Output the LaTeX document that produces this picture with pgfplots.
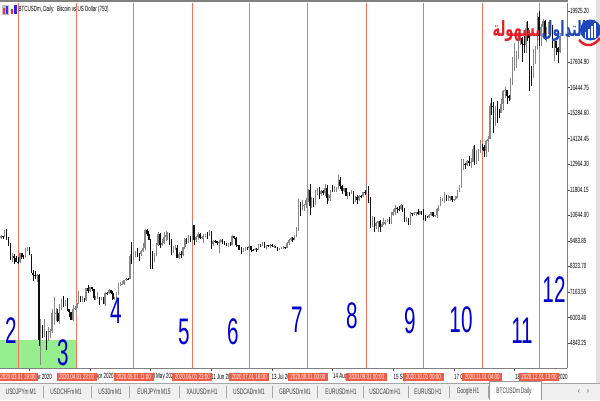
\documentclass[border=0pt]{standalone}
\usepackage{pgfplots}
\pgfplotsset{compat=1.18}
\usepackage{pgfplotstable}
\usepackage{graphicx}
\usepackage{fontspec}
\setmainfont{Liberation Sans}
\newfontfamily\arabicfont[Script=Arabic]{DejaVu Sans}
\TeXXeTstate=1
\newcommand{\sqz}[1]{\scalebox{0.6}[1]{#1}}
\definecolor{mtred}{RGB}{245,115,95}
\definecolor{boxred}{RGB}{242,92,68}
\definecolor{numblue}{RGB}{0,0,205}
\definecolor{bullc}{RGB}{135,135,135}
\definecolor{bearc}{RGB}{15,15,15}
\definecolor{tabbg}{RGB}{240,240,240}
\definecolor{mtgreen}{RGB}{150,238,140}
\definecolor{logoblue}{RGB}{30,70,190}
\definecolor{logored}{RGB}{230,30,40}

\pgfplotstableread{
x o h l c
-9 9600 9760 9580 9690
-8 9690 9700 9580 9660
-7 9660 9990 9650 9960
-6 9960 10020 9510 9660
-5 9660 9680 9270 9310
-4 9310 9370 8620 8780
-3 8780 8950 8530 8810
-2 8810 8890 8440 8700
-1 8700 8790 8530 8540
0 8540 8740 8420 8520
1 8520 8950 8500 8910
2 8910 8930 8660 8760
3 8760 8840 8680 8750
4 8750 9140 8740 9070
5 9070 9190 9020 9160
6 9160 9200 8860 8890
7 8890 8900 8020 8030
8 8030 8180 7640 7930
9 7930 8100 7740 7890
10 7890 7980 7600 7950
11 7950 7970 4700 4970
12 4970 5940 3850 5560
13 5560 5640 5090 5200
14 5200 5950 5100 5390
15 5390 5390 4510 5010
16 5010 5560 4950 5360
17 5360 5460 5070 5410
18 5410 6390 5280 6190
19 6190 6920 5670 6190
20 6190 6440 5860 6200
21 6200 6400 5790 5830
22 5830 6600 5720 6480
23 6480 6850 6360 6770
24 6770 6960 6460 6690
25 6690 6790 6540 6760
26 6760 6870 6290 6370
27 6370 6390 6030 6250
28 6250 6260 5880 5880
29 5880 6590 5860 6400
30 6400 6520 6360 6440
31 6440 6680 6170 6640
32 6640 7190 6600 6800
33 6800 7000 6690 6740
34 6740 6980 6690 6870
35 6870 6880 6690 6780
36 6780 7360 6770 7340
37 7340 7470 7120 7200
38 7200 7400 7150 7370
39 7370 7380 7210 7300
40 7300 7310 6780 6870
41 6870 6960 6790 6890
42 6890 7170 6850 6910
43 6910 6920 6560 6860
44 6860 6930 6790 6870
45 6870 6940 6620 6620
46 6620 7170 6530 7120
47 7120 7150 7010 7100
48 7100 7290 7080 7260
49 7260 7270 7070 7130
50 7130 7210 6800 6850
51 6850 6930 6800 6860
52 6860 7150 6840 7130
53 7130 7560 7010 7490
54 7490 7620 7430 7510
55 7510 7640 7480 7540
56 7540 7710 7490 7700
57 7700 7790 7650 7770
58 7770 7800 7690 7760
59 7760 8900 7740 8780
60 8780 9450 8430 8620
61 8620 9040 8610 8830
62 8830 9000 8770 8970
63 8970 9170 8730 8900
64 8900 8950 8560 8880
65 8880 9080 8800 9030
66 9030 9380 8960 9150
67 9150 10000 9050 9990
68 9990 10040 9720 9810
69 9810 9920 9520 9540
70 9540 9570 8200 8720
71 8720 9000 8200 8560
72 8560 8950 8540 8810
73 8810 9390 8800 9310
74 9310 9880 9250 9790
75 9790 9840 9150 9310
76 9310 9590 9230 9380
77 9380 9880 9330 9670
78 9670 9950 9470 9730
79 9730 9880 9510 9780
80 9780 9830 9300 9510
81 9510 9560 8820 9060
82 9060 9270 8950 9170
83 9170 9310 9080 9180
84 9180 9310 8710 8720
85 8720 8980 8640 8900
86 8900 9010 8700 8840
87 8840 9220 8810 9200
88 9200 9620 9110 9580
89 9580 9610 9340 9430
90 9430 9730 9390 9700
91 9700 9710 9420 9450
92 9450 10430 9420 10200
93 10200 10220 9280 9520
94 9520 9690 9450 9660
95 9660 9880 9530 9800
96 9800 9850 9590 9620
97 9620 9720 9580 9670
98 9670 9790 9380 9750
99 9750 9800 9640 9780
100 9780 9880 9570 9770
101 9770 9990 9690 9880
102 9880 9940 9100 9320
103 9320 9530 9260 9480
104 9480 9500 9380 9470
105 9470 9490 9290 9390
106 9390 9530 8950 9430
107 9430 9580 9380 9530
108 9530 9560 9360 9450
109 9450 9480 9290 9390
110 9390 9400 9230 9290
111 9290 9380 9210 9330
112 9330 9420 9270 9290
113 9290 9740 9280 9690
114 9690 9690 9580 9630
115 9630 9670 9220 9290
116 9290 9310 9090 9250
117 9250 9310 9060 9160
118 9160 9190 8870 9010
119 9010 9140 8970 9120
120 9120 9210 9020 9190
121 9190 9200 9080 9140
122 9140 9290 9090 9230
123 9230 9260 8960 9090
124 9090 9130 9040 9060
125 9060 9170 9050 9130
126 9130 9140 8960 9070
127 9070 9360 9060 9340
128 9340 9360 9220 9250
129 9250 9450 9230 9430
130 9430 9440 9180 9230
131 9230 9310 9120 9290
132 9290 9300 9200 9240
133 9240 9340 9160 9300
134 9300 9340 9200 9240
135 9240 9280 9140 9250
136 9250 9270 9150 9190
137 9190 9210 9000 9130
138 9130 9180 9090 9150
139 9150 9200 9130 9170
140 9170 9230 9110 9210
141 9210 9220 9130 9160
142 9160 9420 9150 9390
143 9390 9550 9280 9540
144 9540 9640 9480 9610
145 9610 9650 9440 9540
146 9540 9730 9530 9700
147 9700 10110 9650 9930
148 9930 11400 9910 11030
149 11030 11230 10600 10940
150 10940 11340 10870 11100
151 11100 11170 10840 11110
152 11110 11450 10970 11320
153 11320 11860 11230 11800
154 11800 12080 10660 11070
155 11070 11480 10960 11220
156 11220 11420 11010 11190
157 11190 11790 11100 11740
158 11740 11900 11550 11770
159 11770 11910 11380 11600
160 11600 11800 11530 11750
161 11750 11800 11570 11680
162 11680 12070 11520 11880
163 11880 12030 11150 11410
164 11410 11620 11280 11580
165 11580 11800 11300 11780
166 11780 12000 11690 11770
167 11770 11980 11690 11870
168 11870 11940 11690 11910
169 11910 12470 11820 12250
170 12250 12380 11850 11990
171 11990 12000 11590 11750
172 11750 11880 11690 11870
173 11870 11880 11510 11520
174 11520 11690 11390 11680
175 11680 11690 11530 11650
176 11650 11810 11600 11760
177 11760 11770 11140 11340
178 11340 11530 11270 11470
179 11470 11570 11160 11320
180 11320 11550 11300 11540
181 11540 11570 11440 11510
182 11510 11720 11480 11710
183 11710 11780 11560 11680
184 11680 12090 11640 11970
185 11970 11980 11200 11410
186 11410 11470 10050 10250
187 10250 10620 10120 10510
188 10510 10560 9900 10170
189 10170 10350 10000 10280
190 10280 10400 9900 10370
191 10370 10430 9890 10130
192 10130 10350 10100 10240
193 10240 10500 10220 10360
194 10360 10410 10200 10400
195 10400 10480 10330 10440
196 10440 10580 10270 10330
197 10330 10780 10260 10680
198 10680 10940 10630 10790
199 10790 11100 10680 10960
200 10960 11040 10740 10950
201 10950 11050 10820 10940
202 10940 11170 10900 11090
203 11090 11090 10800 10920
204 10920 10990 10360 10420
205 10420 10570 10360 10530
206 10530 10540 10200 10240
207 10240 10790 10200 10740
208 10740 10770 10590 10690
209 10690 10780 10650 10730
210 10730 10800 10630 10780
211 10780 10950 10680 10700
212 10700 10860 10650 10840
213 10840 10850 10670 10780
214 10780 10920 10440 10620
215 10620 10660 10400 10570
216 10570 10600 10510 10550
217 10550 10690 10530 10670
218 10670 10800 10620 10790
219 10790 10800 10550 10600
220 10600 10680 10570 10670
221 10670 10960 10530 10920
222 10920 11100 10840 11060
223 11060 11490 11050 11300
224 11300 11440 11280 11380
225 11380 11720 11220 11550
226 11550 11560 11300 11430
227 11430 11550 11300 11430
228 11430 11540 11280 11500
229 11500 11540 11230 11320
230 11320 11400 11300 11370
231 11370 11490 11350 11500
232 11500 11800 11420 11750
233 11750 12030 11700 11920
234 11920 13200 11900 12820
235 12820 13180 12720 12970
236 12970 13020 12730 12930
237 12930 13160 12900 13120
238 13120 13330 12900 13030
239 13030 13240 12800 13070
240 13070 13770 13050 13650
241 13650 13850 12920 13270
242 13270 13620 12990 13460
243 13460 13660 13130 13560
244 13560 14060 13460 13800
245 13800 13900 13620 13760
246 13760 13820 13300 13550
247 13550 14060 13280 14030
248 14030 14240 13540 14130
249 14130 15750 14090 15590
250 15590 15960 15200 15580
251 15580 15770 14380 14830
252 14830 15630 14720 15480
253 15480 15840 14850 15330
254 15330 15460 15080 15300
255 15300 15950 15280 15700
256 15700 16330 15450 16280
257 16280 16480 15960 16320
258 16320 16330 15720 16070
259 16070 16130 15850 15960
260 15960 16880 15870 16720
261 16720 17850 16560 17650
262 17650 18480 17220 17800
263 17800 18130 17350 17820
264 17820 18810 17750 18680
265 18680 18960 18360 18710
266 18710 18760 17620 18420
267 18420 18770 18000 18370
268 18370 19420 18030 19160
269 19160 19480 18580 18720
270 18720 18900 16300 17150
271 17150 17440 16500 17140
272 17140 18220 16880 17720
273 17720 18340 17530 18180
274 18180 19840 18180 19630
275 19630 19920 18320 18800
276 18800 19320 18350 19220
277 19220 19560 18930 19450
278 19450 19510 18590 18700
279 18700 19180 18520 19150
280 19150 19420 18870 19360
281 19360 19420 18900 19170
282 19170 19280 18230 18320
283 18320 18630 17650 18550
284 18550 18560 17920 18250
285 18250 18280 17580 18040
286 18040 18940 18030 18800
}\btc

\begin{document}
\begin{tikzpicture}[x=1pt,y=1pt]
\path[use as bounding box] (0,0) rectangle (600,400);
\fill[white] (0,0) rectangle (600,400);
\begin{axis}[at={(0pt,32pt)}, anchor=south west, scale only axis,
  width=567pt, height=365pt,
  xmin=-9.5, xmax=289.7, ymin=3707.6, ymax=20288.4,
  scaled x ticks=false, scaled y ticks=false,
  axis x line=bottom, axis y line=right,
  axis line style={-, draw=black!50, line width=0.9pt},
  tick align=outside, major tick length=3pt,
  tick style={black!70, line width=0.5pt},
  xtick={6,38,...,262},
  xticklabels={,,,,,,,,},
  ytick={4843.25,6003.40,7163.55,8323.70,9483.85,10644.00,11804.15,12964.30,14124.45,15284.60,16444.75,17604.90,18765.05,19925.20},
  yticklabels={\sqz{4843.25},\sqz{6003.40},\sqz{7163.55},\sqz{8323.70},\sqz{9483.85},\sqz{10644.00},\sqz{11804.15},\sqz{12964.30},\sqz{14124.45},\sqz{15284.60},\sqz{16444.75},\sqz{17604.90},{},\sqz{19925.20}},
  y tick label style={font=\fontsize{7.5}{8}\selectfont, anchor=west, inner sep=0pt, xshift=0pt},
]
\fill[mtgreen] (axis cs:-9.5,3707.6) rectangle (axis cs:31.2,4980);
\pgfplotsinvokeforeach{0,31,61,92,122,153,184,214,245,275}{
  \draw[mtred, line width=0.9pt] (axis cs:#1,3707.6) -- (axis cs:#1,20288.4);
}
% wicks bull
\addplot[draw=none, forget plot,
  restrict expr to domain={\thisrow{c}-\thisrow{o}}{0:100000},
  error bars/.cd, y dir=plus, y explicit, error mark=none,
  error bar style={draw=bullc, line width=0.6pt, solid}]
  table[x=x, y=l, y error plus expr=\thisrow{h}-\thisrow{l}] {\btc};
% bodies bull
\addplot[draw=none, forget plot,
  restrict expr to domain={\thisrow{c}-\thisrow{o}}{0:100000},
  error bars/.cd, y dir=plus, y explicit, error mark=none,
  error bar style={draw=bullc, line width=1.5pt, solid}]
  table[x=x, y=o, y error plus expr=\thisrow{c}-\thisrow{o}] {\btc};
% wicks bear
\addplot[draw=none, forget plot,
  restrict expr to domain={\thisrow{o}-\thisrow{c}}{0.5:100000},
  error bars/.cd, y dir=plus, y explicit, error mark=none,
  error bar style={draw=bearc, line width=0.6pt, solid}]
  table[x=x, y=l, y error plus expr=\thisrow{h}-\thisrow{l}] {\btc};
% bodies bear
\addplot[draw=none, forget plot,
  restrict expr to domain={\thisrow{o}-\thisrow{c}}{0.5:100000},
  error bars/.cd, y dir=plus, y explicit, error mark=none,
  error bar style={draw=bearc, line width=1.5pt, solid}]
  table[x=x, y=c, y error plus expr=\thisrow{o}-\thisrow{c}] {\btc};
\end{axis}
% top frame line
\fill[black!50] (0,397.5) rectangle (567.5,400);
% right window strip
\fill[black!12] (596,17) rectangle (600,400);
% title and icons
\fill[black!25] (2,385) rectangle (9,395);
\fill[red!80] (3,386) rectangle (5,392);
\fill[blue!80] (6,386) rectangle (8,394);
\fill[red!85] (10.5,386) rectangle (13,391);
\fill[blue!85] (14,386) rectangle (16.5,395);
\node[anchor=west, inner sep=0pt, font=\fontsize{7.5}{8}\selectfont] at (18.5,390) {\sqz{BTCUSDm, Daily:\ \ Bitcoin vs US Dollar (750)}};
% visible parts of the time scale labels
\foreach \xx/\lab in {36.5/ar 2020, 95.2/Apr 2020, 152.3/0 May 202, 211/11 Jun 20, 271.3/13 Jul 20, 333/14 Aug, 393.5/15 Se, 454/17 O, 515/18, 557.3/2020}{
  \node[anchor=west, inner sep=0pt, font=\fontsize{7.5}{8}\selectfont] at (\xx,23) {\sqz{\lab}};
}
% date boxes
\foreach \xx/\lab in {18/2020.03.01 19:00, 76.7/2020.04.01 23:00, 133.6/2020.05.01 11:00, 192.3/2020.06.01 23:00, 249.1/2020.07.01 16:00, 307.9/2020.08.01 00:00, 366.6/2020.09.01 00:00, 423.4/2020.10.01 00:00, 482.2/2020.11.01 04:00, 539/2020.12.01 13:00}{
  \node[fill=boxred, text=white, inner xsep=2.6pt, inner ysep=0pt, minimum height=8.5pt, font=\fontsize{7.5}{8}\selectfont] at (\xx,23) {\sqz{\lab}};
}
% big numbers
\foreach \xx/\yy/\t in {11/331/2, 63/353/3, 116/311/4, 184/332/5, 233/332/6, 297/320/7, 352/316/8, 410/321/9, 461/320/10, 522/331/11, 554/290/12}{
  \node[text=numblue, inner sep=0pt, font=\fontsize{37}{37}\selectfont] at (\xx,400-\yy) {\scalebox{0.56}[1]{\t}};
}
% logo icon
\fill[logoblue] (590.5,370) circle (10.5);
\foreach \bx/\bh in {584.5/6, 587.6/9, 590.7/12, 593.8/15}{
  \fill[white] (\bx,362) rectangle (\bx+1.9,362+\bh);
}
\draw[logored, line width=2.5pt] (579,360) .. controls (586,352) and (594,354) .. (600,362);
% logo text
\node[anchor=east, text=logored, inner sep=0pt, font=\arabicfont\bfseries\fontsize{21}{21}\selectfont] at (540.5,369) {\scalebox{0.62}[1]{\beginR بسهولة\endR}};
\node[anchor=west, text=logoblue, inner sep=0pt, font=\arabicfont\bfseries\fontsize{21}{21}\selectfont] at (541.5,369) {\scalebox{0.6}[1]{\beginR التداول\endR}};
% tab bar
\fill[tabbg] (0,0) rectangle (600,17);
\draw[black!35, line width=0.6pt] (0,17) -- (600,17);
\foreach \sx in {43,91,129,179,226,272,317,363,408,449,488}{
  \draw[black!35, line width=0.6pt] (\sx,2) -- (\sx,14);
}
\fill[white] (489,0) rectangle (541,18.5);
\draw[black!40, line width=0.6pt] (489,0) -- (489,18.5) -- (541,18.5) -- (541,0);
\foreach \tx/\tl in {21/USDJPYm\,M1, 66/USDCHFm\,M1, 110/US30m\,M1, 154/EURJPYm\,M15, 202/XAUUSDm\,H1, 249/USDCADm\,M1, 295/GBPUSDm\,M1, 341/EURUSDm\,H1, 385/USDCADm\,H1, 428/EURUSD\,H1, 468/Google\,H1, 514/BTCUSDm\,Daily}{
  \node[inner sep=0pt, text=black!75, font=\fontsize{8}{9}\selectfont] at (\tx,8.5) {\sqz{\tl}};
}
\node[inner sep=0pt, text=black!60, font=\fontsize{8}{9}\selectfont] at (579,8.5) {‹};
\node[inner sep=0pt, text=black!60, font=\fontsize{8}{9}\selectfont] at (588,8.5) {›};
\end{tikzpicture}
\end{document}
